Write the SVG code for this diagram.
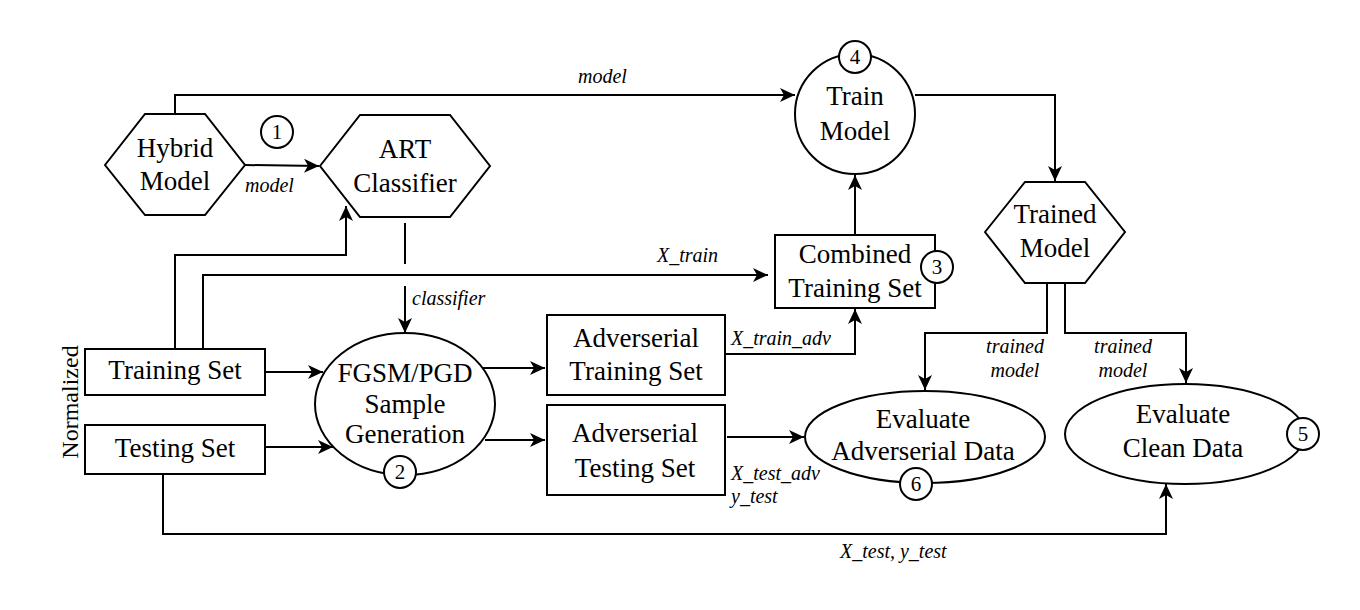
<svg xmlns="http://www.w3.org/2000/svg" width="1360" height="610" viewBox="0 0 1360 610" font-family="'Liberation Serif', serif">
<defs>
<marker id="ah" markerUnits="userSpaceOnUse" markerWidth="16" markerHeight="16" viewBox="0 0 16 16" refX="15" refY="8" orient="auto">
<path d="M0,1 L15,8 L0,15 L4,8 z" fill="#000"/>
</marker>
<style>
text{font-family:'Liberation Serif',serif}
.s{fill:#fff;stroke:#000;stroke-width:2}
.t{font-size:27px;fill:#000;text-anchor:middle}
.n{font-size:21px;fill:#000;text-anchor:middle}
.l{font-size:20px;font-style:italic;fill:#000}
.c{fill:none;stroke:#000;stroke-width:2}
.a{fill:none;stroke:#000;stroke-width:2;marker-end:url(#ah)}
</style>
</defs>
<rect width="1360" height="610" fill="#fff"/>
<g id="connectors">
<path class="a" d="M245,165 L319,166"/>
<path class="a" d="M175,114 V95 H795"/>
<path class="c" d="M405,223 V264"/>
<path class="a" d="M405,286 V333"/>
<path class="a" d="M175,349 V255 H346 V206"/>
<path class="a" d="M203,349 V275 H768"/>
<path class="a" d="M265,372 H323"/>
<path class="a" d="M265,447 H333"/>
<path class="a" d="M482,368 L545,368"/>
<path class="a" d="M485,440 L545,440"/>
<path class="a" d="M725,354 H855 V309"/>
<path class="a" d="M855,235 V175"/>
<path class="a" d="M915,95 H1055 V181"/>
<path class="a" d="M727,437 L804,437"/>
<path class="a" d="M1047,283 V333 H925 V390"/>
<path class="a" d="M1065,283 V333 H1186 V383"/>
<path class="a" d="M163,474 V534 H1166 V484"/>
<text class="l" x="245" y="192">model</text>
<text class="l" x="578" y="83">model</text>
<text class="l" x="412" y="305">classifier</text>
<text class="l" x="657" y="262">X_train</text>
<text class="l" x="731" y="345">X_train_adv</text>
<text class="l" x="731" y="480">X_test_adv</text>
<text class="l" x="731" y="503">y_test</text>
<text class="l" x="1015" y="353" text-anchor="middle">trained</text>
<text class="l" x="1015" y="377" text-anchor="middle">model</text>
<text class="l" x="1123" y="353" text-anchor="middle">trained</text>
<text class="l" x="1123" y="377" text-anchor="middle">model</text>
<text class="l" x="840" y="558">X_test, y_test</text>
</g>
<g id="normalized">
<text class="t" style="font-size:24px" transform="translate(78,402) rotate(-90)">Normalized</text>
</g>
<g id="hybrid-model">
<polygon class="s" points="105,165 145,114 205,114 245,165 205,215 145,215"/>
<text class="t" x="175" y="157">Hybrid</text>
<text class="t" x="175" y="190">Model</text>
</g>
<g id="step1">
<circle class="s" cx="277" cy="132" r="16"/>
<text class="n" x="277" y="139">1</text>
</g>
<g id="art-classifier">
<polygon class="s" points="320,166 360,115 450,115 490,166 450,217 360,217"/>
<text class="t" x="405" y="158">ART</text>
<text class="t" x="405" y="192">Classifier</text>
</g>
<g id="train-model">
<circle class="s" cx="855" cy="114" r="60"/>
<text class="t" x="855" y="105">Train</text>
<text class="t" x="855" y="140">Model</text>
<circle class="s" cx="855" cy="57" r="16"/>
<text class="n" x="855" y="64">4</text>
</g>
<g id="combined-training-set">
<rect class="s" x="775" y="235" width="160" height="73"/>
<text class="t" x="855" y="263">Combined</text>
<text class="t" x="855" y="297">Training Set</text>
<circle class="s" cx="937" cy="267" r="16"/>
<text class="n" x="937" y="274">3</text>
</g>
<g id="trained-model">
<polygon class="s" points="985,232 1025,182 1085,182 1125,232 1085,283 1025,283"/>
<text class="t" x="1055" y="223">Trained</text>
<text class="t" x="1055" y="257">Model</text>
</g>
<g id="training-set">
<rect class="s" x="85" y="349" width="180" height="46"/>
<text class="t" x="175" y="379">Training Set</text>
</g>
<g id="testing-set">
<rect class="s" x="85" y="425" width="180" height="49"/>
<text class="t" x="175" y="457">Testing Set</text>
</g>
<g id="fgsm-pgd">
<ellipse class="s" cx="405" cy="404" rx="90" ry="71"/>
<text class="t" x="405" y="382">FGSM/PGD</text>
<text class="t" x="405" y="413">Sample</text>
<text class="t" x="405" y="443">Generation</text>
<circle class="s" cx="400" cy="472" r="16"/>
<text class="n" x="400" y="479">2</text>
</g>
<g id="adv-training-set">
<rect class="s" x="547" y="315" width="178" height="80"/>
<text class="t" x="636" y="347">Adverserial</text>
<text class="t" x="636" y="380">Training Set</text>
</g>
<g id="adv-testing-set">
<rect class="s" x="547" y="405" width="178" height="90"/>
<text class="t" x="635" y="442">Adverserial</text>
<text class="t" x="635" y="477">Testing Set</text>
</g>
<g id="evaluate-adv">
<ellipse class="s" cx="925" cy="437" rx="120" ry="46"/>
<text class="t" x="923" y="428">Evaluate</text>
<text class="t" x="923" y="460">Adverserial Data</text>
<circle class="s" cx="916" cy="484" r="16"/>
<text class="n" x="916" y="491">6</text>
</g>
<g id="evaluate-clean">
<ellipse class="s" cx="1185" cy="434" rx="120" ry="50"/>
<text class="t" x="1183" y="423">Evaluate</text>
<text class="t" x="1183" y="457">Clean Data</text>
<circle class="s" cx="1303" cy="434" r="16"/>
<text class="n" x="1303" y="441">5</text>
</g>
</svg>
